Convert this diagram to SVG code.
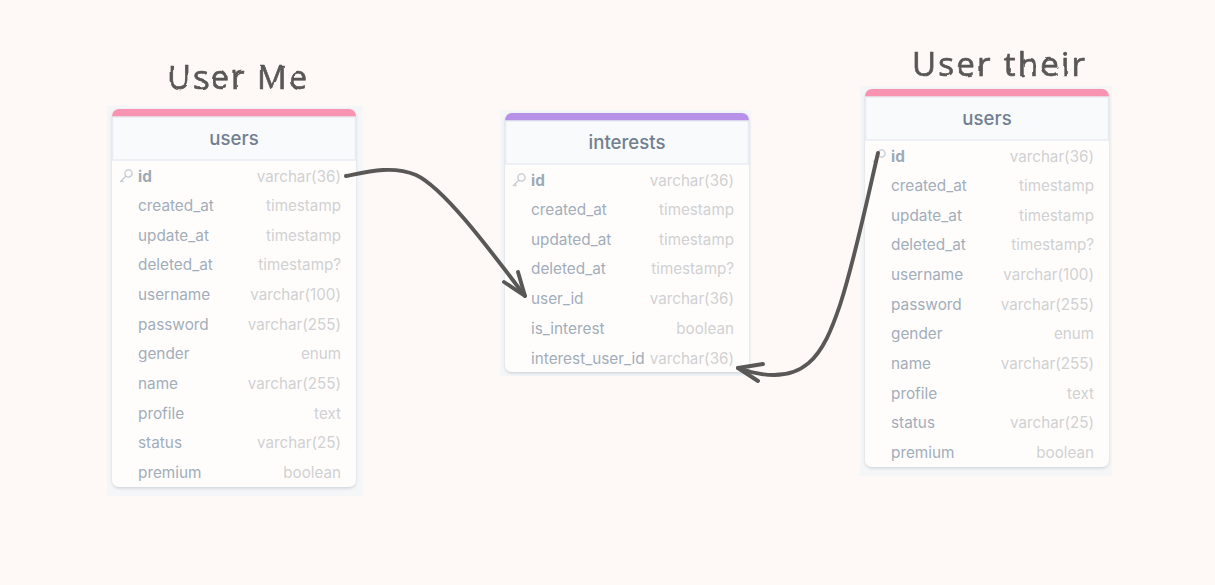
<svg xmlns="http://www.w3.org/2000/svg" width="1215" height="585" viewBox="0 0 1215 585">
<style>
text{font-family:Inter,"Noto Sans","Liberation Sans",sans-serif}
.halo{fill:#f2f5f7;opacity:.8}
.card{fill:#fffdfc}
.head{fill:#f9fafb;stroke:#e8ebf1;stroke-width:1.5}
.title{font-size:18.6px;font-weight:500;fill:#727f91;text-anchor:middle}
.f{font-size:15.35px;fill:#a2adba}
.pk{font-weight:700;fill:#9ea9b6}
.t{font-size:15.2px;fill:#d0d1d2;text-anchor:end}
.key{fill:none;stroke:#c2c9d1;stroke-width:1.3}
.hand{font-family:"Open Sans",Lato,sans-serif;font-size:33px;fill:#5a5856;stroke:#5a5856;stroke-width:.7;stroke-linejoin:round;filter:url(#wob)}
.wire{fill:none;stroke:#5a5856;stroke-width:3.9;stroke-linecap:round;stroke-linejoin:round}
</style>
<defs>
<filter id="wob" x="-5%" y="-20%" width="110%" height="140%"><feTurbulence type="fractalNoise" baseFrequency="0.05" numOctaves="2" seed="4"/><feDisplacementMap in="SourceGraphic" scale="3"/></filter>
<filter id="sh" x="-5%" y="-5%" width="110%" height="110%"><feDropShadow dx="0" dy="1.5" stdDeviation="1.8" flood-color="#94a3b3" flood-opacity=".4"/></filter>
<g id="keyicon"><circle cx="5.5" cy="-3.5" r="3.6" class="key"/><path d="M3 -1L-3 5M-1.4 3.4L0.4 5.2" class="key"/></g>
</defs>
<rect width="1215" height="585" fill="#fef8f6"/>

<g id="label-me"><text class="hand" x="167" y="89" textLength="140" lengthAdjust="spacing">User Me</text></g>
<g id="label-their"><text class="hand" x="912" y="76" textLength="173" lengthAdjust="spacing">User their</text></g>

<g id="users-me" transform="translate(112,109)">
<rect class="halo" x="-5" y="-3" width="256" height="390"/>
<rect class="card" width="244" height="378" rx="7" filter="url(#sh)"/>
<path d="M0 8V7a7 7 0 0 1 7-7H237a7 7 0 0 1 7 7V8Z" fill="#f893b2"/>
<rect class="head" x="0.5" y="8" width="243" height="43"/>
<text class="title" x="122" y="36">users</text>
<use href="#keyicon" x="11" y="68"/>
<text class="f pk" x="26" y="72.5">id</text><text class="t" x="229" y="72.5">varchar(36)</text>
<text class="f" x="26" y="102">created_at</text><text class="t" x="229" y="102">timestamp</text>
<text class="f" x="26" y="131.5">update_at</text><text class="t" x="229" y="131.5">timestamp</text>
<text class="f" x="26" y="161">deleted_at</text><text class="t" x="229" y="161">timestamp?</text>
<text class="f" x="26" y="190.5">username</text><text class="t" x="229" y="190.5">varchar(100)</text>
<text class="f" x="26" y="221">password</text><text class="t" x="229" y="221">varchar(255)</text>
<text class="f" x="26" y="250">gender</text><text class="t" x="229" y="250">enum</text>
<text class="f" x="26" y="280">name</text><text class="t" x="229" y="280">varchar(255)</text>
<text class="f" x="26" y="309.5">profile</text><text class="t" x="229" y="309.5">text</text>
<text class="f" x="26" y="339">status</text><text class="t" x="229" y="339">varchar(25)</text>
<text class="f" x="26" y="368.5">premium</text><text class="t" x="229" y="368.5">boolean</text>
</g>

<g id="interests" transform="translate(505,113)">
<rect class="halo" x="-5" y="-3" width="251" height="266"/>
<rect class="card" width="244" height="259" rx="7" filter="url(#sh)"/>
<path d="M0 8V7a7 7 0 0 1 7-7H237a7 7 0 0 1 7 7V8Z" fill="#b791e8"/>
<rect class="head" x="0.5" y="8" width="243" height="43"/>
<text class="title" x="122" y="36">interests</text>
<use href="#keyicon" x="11" y="68"/>
<text class="f pk" x="26" y="72.5">id</text><text class="t" x="229" y="72.5">varchar(36)</text>
<text class="f" x="26" y="102">created_at</text><text class="t" x="229" y="102">timestamp</text>
<text class="f" x="26" y="131.5">updated_at</text><text class="t" x="229" y="131.5">timestamp</text>
<text class="f" x="26" y="161">deleted_at</text><text class="t" x="229" y="161">timestamp?</text>
<text class="f" x="26" y="190.5">user_id</text><text class="t" x="229" y="190.5">varchar(36)</text>
<text class="f" x="26" y="221">is_interest</text><text class="t" x="229" y="221">boolean</text>
<text class="f" x="26" y="250.5">interest_user_id</text><text class="t" x="229" y="250.5">varchar(36)</text>
</g>

<g id="users-their" transform="translate(865,89)">
<rect class="halo" x="-5" y="-3" width="252" height="390"/>
<rect class="card" width="244" height="378" rx="7" filter="url(#sh)"/>
<path d="M0 8V7a7 7 0 0 1 7-7H237a7 7 0 0 1 7 7V8Z" fill="#f893b2"/>
<rect class="head" x="0.5" y="8" width="243" height="43"/>
<text class="title" x="122" y="36">users</text>
<use href="#keyicon" x="11" y="68"/>
<text class="f pk" x="26" y="72.5">id</text><text class="t" x="229" y="72.5">varchar(36)</text>
<text class="f" x="26" y="102">created_at</text><text class="t" x="229" y="102">timestamp</text>
<text class="f" x="26" y="131.5">update_at</text><text class="t" x="229" y="131.5">timestamp</text>
<text class="f" x="26" y="161">deleted_at</text><text class="t" x="229" y="161">timestamp?</text>
<text class="f" x="26" y="190.5">username</text><text class="t" x="229" y="190.5">varchar(100)</text>
<text class="f" x="26" y="221">password</text><text class="t" x="229" y="221">varchar(255)</text>
<text class="f" x="26" y="250">gender</text><text class="t" x="229" y="250">enum</text>
<text class="f" x="26" y="280">name</text><text class="t" x="229" y="280">varchar(255)</text>
<text class="f" x="26" y="309.5">profile</text><text class="t" x="229" y="309.5">text</text>
<text class="f" x="26" y="339">status</text><text class="t" x="229" y="339">varchar(25)</text>
<text class="f" x="26" y="368.5">premium</text><text class="t" x="229" y="368.5">boolean</text>
</g>

<g id="connectors">
<path class="wire" d="M346 176C366 172 392 165 416 175C444 188 490 250 525 296"/>
<path class="wire" d="M504 282L525 296L518 272"/>
<path class="wire" d="M878 153C866 205 854 262 840 305C824 352 806 392 738 368"/>
<path class="wire" d="M763 364L738 368L758 381"/>
</g>
</svg>
